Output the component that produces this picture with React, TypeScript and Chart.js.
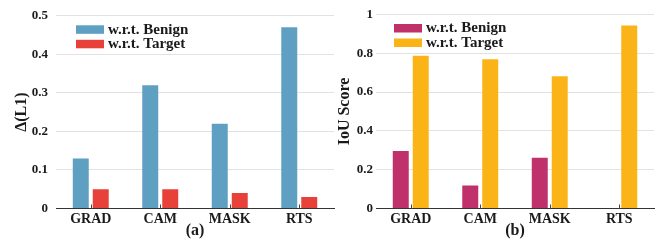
import React, { useEffect, useRef } from "react";
import { Chart, registerables } from "chart.js";

Chart.register(...registerables);

const categories = ["GRAD", "CAM", "MASK", "RTS"];
const seriesLabels = ["w.r.t. Benign", "w.r.t. Target"];

const l1Benign = [0.13, 0.32, 0.22, 0.47];
const l1Target = [0.05, 0.05, 0.04, 0.03];

const iouBenign = [0.296, 0.119, 0.262, 0];
const iouTarget = [0.788, 0.769, 0.682, 0.943];

const leftColors = ["#5f9fc2", "#e8413a"];
const rightColors = ["#c0306a", "#fbb418"];

const FONT = "'Liberation Serif', 'Times New Roman', serif";
const TEXT = "#1a1a1a";

const legendPlugin = {
  id: "innerLegend",
  afterDatasetsDraw(chart: any, _args: any, opts: any) {
    const ctx = chart.ctx;
    const area = chart.chartArea;
    ctx.save();
    ctx.font = `bold 15px ${FONT}`;
    ctx.textBaseline = "middle";
    ctx.textAlign = "left";
    chart.data.datasets.forEach((ds: any, i: number) => {
      const x = area.left + opts.offsetX;
      const y = area.top + opts.offsetY + i * 14.5;
      ctx.fillStyle = ds.backgroundColor;
      ctx.fillRect(x, y - 4, 28, 8.5);
      ctx.fillStyle = TEXT;
      ctx.fillText(ds.label, x + 32, y + 0.5);
    });
    ctx.restore();
  },
};

const tickMarkPlugin = {
  id: "tickMarks",
  afterDatasetsDraw(chart: any) {
    const ctx = chart.ctx;
    const xs = chart.scales.x;
    const bottom = chart.chartArea.bottom;
    ctx.save();
    ctx.strokeStyle = "#444";
    ctx.lineWidth = 1;
    xs.ticks.forEach((_t: any, i: number) => {
      const px = Math.round(xs.getPixelForTick(i)) + 0.5;
      ctx.beginPath();
      ctx.moveTo(px, bottom);
      ctx.lineTo(px, bottom - 4);
      ctx.stroke();
    });
    ctx.restore();
  },
};

function BarPanel(props: {
  a: number[];
  b: number[];
  colors: string[];
  yTitle: string;
  xTitle: string;
  max: number;
  step: number;
  yWidth: number;
  tickPad: number;
  titlePad: number;
  padRight: number;
  legendX: number;
}) {
  const ref = useRef<HTMLCanvasElement>(null);
  useEffect(() => {
    const chart = new Chart(ref.current as HTMLCanvasElement, {
      type: "bar",
      data: {
        labels: categories,
        datasets: [
          {
            label: seriesLabels[0],
            data: props.a,
            backgroundColor: props.colors[0],
            categoryPercentage: 0.575,
            barPercentage: 0.8,
          },
          {
            label: seriesLabels[1],
            data: props.b,
            backgroundColor: props.colors[1],
            categoryPercentage: 0.575,
            barPercentage: 0.8,
          },
        ],
      },
      options: {
        responsive: false,
        animation: false,
        layout: { padding: { top: 14.5, right: props.padRight, left: 0, bottom: 0 } },
        plugins: {
          legend: { display: false },
          tooltip: { enabled: false },
          innerLegend: { offsetX: props.legendX, offsetY: 13.5 },
        } as any,
        scales: {
          x: {
            grid: { display: false, drawTicks: false, tickLength: 0 },
            border: { display: true, color: "#333", width: 1 },
            ticks: {
              color: TEXT,
              font: { family: FONT, size: 14, weight: "bold" },
              padding: 2,
              maxRotation: 0,
            },
            title: {
              display: true,
              text: props.xTitle,
              color: TEXT,
              font: { family: FONT, size: 16, weight: "bold" },
              padding: { top: 0, bottom: 0 },
            },
            afterFit: (s: any) => {
              s.height = 31.5;
            },
          },
          y: {
            min: 0,
            max: props.max,
            grid: { color: "#e2e2e2", drawTicks: false, lineWidth: 1 },
            border: { display: false },
            ticks: {
              stepSize: props.step,
              color: TEXT,
              padding: props.tickPad,
              font: { family: FONT, size: 13, weight: "bold" },
              callback: (v: any) => String(+Number(v).toFixed(2)),
            },
            title: {
              display: true,
              text: props.yTitle,
              color: TEXT,
              font: { family: FONT, size: 16, weight: "bold" },
              padding: { top: props.titlePad, bottom: 0 },
            },
            afterFit: (s: any) => {
              s.width = props.yWidth;
            },
          },
        },
      } as any,
      plugins: [legendPlugin, tickMarkPlugin],
    });
    return () => chart.destroy();
  }, []);
  return <canvas ref={ref} width={335} height={240} style={{ display: "block" }} />;
}

export default function App() {
  return (
    <div
      style={{
        position: "absolute",
        left: 0,
        top: 0,
        width: 670,
        height: 240,
        display: "flex",
        background: "#fff",
      }}
    >
      <BarPanel
        a={l1Benign}
        b={l1Target}
        colors={leftColors}
        yTitle="Δ(L1)"
        xTitle="(a)"
        max={0.5}
        step={0.1}
        yWidth={56}
        tickPad={8}
        titlePad={12}
        padRight={1}
        legendX={20}
      />
      <BarPanel
        a={iouBenign}
        b={iouTarget}
        colors={rightColors}
        yTitle="IoU Score"
        xTitle="(b)"
        max={1}
        step={0.2}
        yWidth={41}
        tickPad={3}
        titlePad={0}
        padRight={16}
        legendX={18}
      />
    </div>
  );
}
